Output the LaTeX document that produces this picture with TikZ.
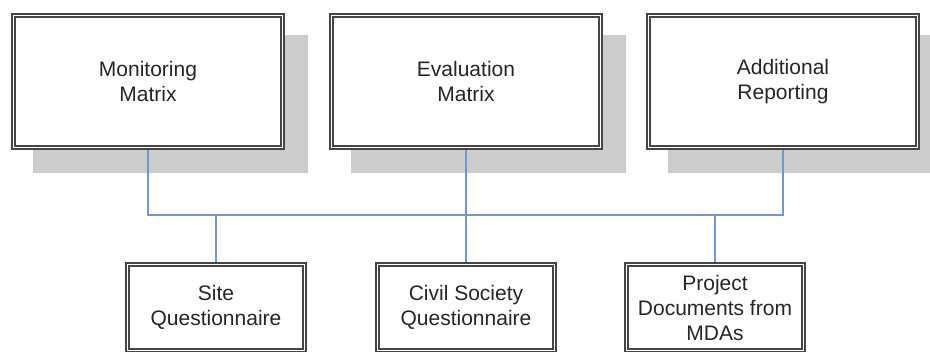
\documentclass[tikz,border=0pt]{standalone}
\usepackage{fontspec}
\setmainfont{Liberation Sans}
\usetikzlibrary{backgrounds}
\definecolor{linkblue}{RGB}{112,150,212}
\definecolor{boxgray}{RGB}{70,70,70}
\definecolor{shadowgray}{RGB}{204,204,204}

\begin{document}
\begin{tikzpicture}[x=1pt,y=-1pt,
  docbox/.style={draw=boxgray, fill=white, double=white, line width=1.6pt, double distance=1.4pt,
    align=center, text=black!85, font=\fontsize{21}{25}\selectfont, inner sep=2pt, outer sep=0pt},
  topbox/.style={docbox, minimum width=269.5pt, minimum height=132.5pt},
  sourcebox/.style={docbox, minimum width=176.5pt, minimum height=86.5pt},
  boxshadow/.style={fill=shadowgray},
  link/.style={draw=linkblue, line width=1.8pt}]
\useasboundingbox (0,0) rectangle (930,352);

\node[topbox] (mon) at (148,81.5) {Monitoring\\Matrix};
\node[topbox] (eva) at (466,81.5) {Evaluation\\Matrix};
\node[topbox] (add) at (783,81.5) {Additional\\Reporting};

\node[sourcebox] (site) at (216,307.5) {Site\\Questionnaire};
\node[sourcebox] (civil) at (466,307.5) {Civil Society\\Questionnaire};
\node[sourcebox] (proj) at (715,307.5) {Project\\Documents from\\MDAs};

\coordinate (bus) at (0,215);

\begin{pgfonlayer}{background}
\fill[boxshadow] ([shift={(20,20)}]mon.north west) rectangle ([shift={(25,25)}]mon.south east);
\fill[boxshadow] ([shift={(20,20)}]eva.north west) rectangle ([shift={(25,25)}]eva.south east);
\fill[boxshadow] ([shift={(20,20)}]add.north west) rectangle ([shift={(25,25)}]add.south east);

\draw[link] (mon.south) |- (bus -| add.south) -- (add.south);
\draw[link] (eva.south) -- (eva.south |- bus);
\draw[link] (site.north) -- (site.north |- bus);
\draw[link] (civil.north) -- (civil.north |- bus);
\draw[link] (proj.north) -- (proj.north |- bus);
\end{pgfonlayer}
\end{tikzpicture}
\end{document}
